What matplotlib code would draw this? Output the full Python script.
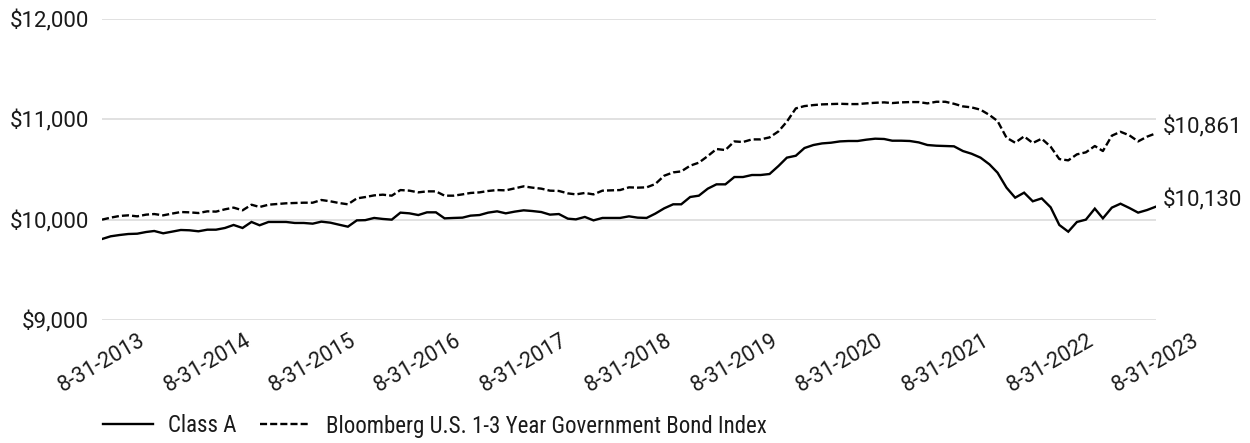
#!/usr/bin/env python3
"""Growth of $10,000: Class A vs Bloomberg U.S. 1-3 Year Government Bond Index."""
import pandas as pd
import matplotlib
matplotlib.use("Agg")
import matplotlib.pyplot as plt
from matplotlib import font_manager
from matplotlib.lines import Line2D
from matplotlib.ticker import FuncFormatter

# monthly values, 8-31-2013 .. 8-31-2023
class_a = [
    9807, 9834, 9847, 9857, 9860, 9877, 9887, 9864, 9880, 9897,
    9894, 9884, 9900, 9900, 9917, 9947, 9917, 9977, 9944, 9977,
    9977, 9977, 9967, 9967, 9960, 9980, 9970, 9950, 9930, 9993,
    9995, 10017, 10007, 10000, 10070, 10063, 10046, 10073, 10073, 10013,
    10017, 10020, 10040, 10046, 10070, 10083, 10063, 10080, 10093, 10086,
    10076, 10050, 10056, 10010, 10003, 10027, 9993, 10017, 10017, 10017,
    10033, 10020, 10017, 10060, 10113, 10153, 10153, 10226, 10239, 10309,
    10352, 10352, 10425, 10425, 10445, 10445, 10455, 10535, 10618, 10637,
    10714, 10744, 10760, 10767, 10780, 10784, 10784, 10797, 10807, 10804,
    10787, 10787, 10784, 10770, 10744, 10737, 10734, 10731, 10684, 10657,
    10618, 10551, 10468, 10319, 10219, 10269, 10183, 10212, 10123, 9947,
    9880, 9977, 10000, 10110, 10013, 10120, 10159, 10116, 10070, 10096,
    10130,
]
bond_index = [
    10000, 10020, 10037, 10043, 10033, 10050, 10056, 10043, 10060, 10076,
    10073, 10066, 10083, 10080, 10103, 10120, 10093, 10149, 10126, 10149,
    10156, 10163, 10166, 10169, 10169, 10196, 10183, 10166, 10153, 10212,
    10225, 10242, 10249, 10239, 10295, 10289, 10272, 10282, 10282, 10239,
    10239, 10252, 10266, 10272, 10286, 10295, 10292, 10312, 10332, 10319,
    10309, 10289, 10286, 10262, 10252, 10266, 10252, 10289, 10292, 10295,
    10322, 10319, 10322, 10355, 10438, 10471, 10481, 10538, 10568, 10634,
    10704, 10694, 10780, 10774, 10800, 10800, 10820, 10880, 10977, 11109,
    11132, 11142, 11149, 11152, 11155, 11152, 11152, 11159, 11165, 11169,
    11162, 11169, 11172, 11172, 11159, 11175, 11175, 11155, 11129, 11119,
    11096, 11043, 10983, 10817, 10767, 10830, 10764, 10807, 10727, 10604,
    10591, 10651, 10671, 10734, 10684, 10837, 10876, 10840, 10780, 10827,
    10861,
]
series_names = ["Class A", "Bloomberg U.S. 1-3 Year Government Bond Index"]
tick_years = list(range(2013, 2024))
y_ticks = [9000, 10000, 11000, 12000]

TEXT = "#1a1a1a"
GRID = "#d9d9d9"


def pick_family(prefer):
    names = {f.name for f in font_manager.fontManager.ttflist}
    for p in prefer:
        if p in names:
            return p
    return "DejaVu Sans"


def main():
    base = pick_family(["Roboto", "Inter", "Liberation Sans"])
    cond = pick_family(["Roboto Condensed", "Liberation Sans Narrow"])
    plt.rcParams["font.family"] = [base, "DejaVu Sans"]

    dates = pd.date_range("2013-08-31", periods=len(class_a), freq="ME")
    ticks = [pd.Timestamp(f"{y}-08-31") for y in tick_years]

    fig = plt.figure(figsize=(12.5, 4.43), dpi=100)
    ax = fig.add_axes([0.0816, 0.2777, 0.8432, 0.6794])

    dash = (0, (3.0, 1.3))
    ax.plot(dates, class_a, color="black", lw=1.7, solid_joinstyle="miter")
    ax.plot(dates, bond_index, color="black", lw=1.7, linestyle=dash)

    ax.set_ylim(9000, 12000)
    ax.set_xlim(dates[0], dates[-1])
    ax.set_yticks(y_ticks)
    ax.yaxis.set_major_formatter(FuncFormatter(lambda v, _: f"${v:,.0f}"))
    ax.set_xticks(ticks)
    ax.set_xticklabels([f"8-31-{y}" for y in tick_years], rotation=30,
                       ha="center", fontsize=15.5, color=TEXT)
    ax.tick_params(axis="y", length=0, pad=9.5, labelsize=16, labelcolor=TEXT)
    ax.tick_params(axis="x", length=0, pad=7)

    ax.grid(axis="y", color=GRID, lw=1.1)
    ax.set_axisbelow(True)
    for s in ax.spines.values():
        s.set_visible(False)

    # end labels
    for vals in (bond_index, class_a):
        ax.annotate(f"${vals[-1]:,}", xy=(dates[-1], vals[-1]), xytext=(5, 0),
                    textcoords="offset points", ha="left", va="baseline",
                    fontsize=16, color=TEXT, annotation_clip=False)

    # legend under the axis
    if cond in ("Roboto Condensed", "Liberation Sans Narrow"):
        lfam, lsize = cond, 16.5
    else:
        lfam, lsize = base, 15.5
    handles = [Line2D([], [], color="black", lw=1.7),
               Line2D([], [], color="black", lw=1.7, linestyle=dash)]
    fig.legend(handles, series_names, loc="center left",
               bbox_to_anchor=(103 / 1250, 1 - 426 / 443), ncol=2, frameon=False,
               borderpad=0, borderaxespad=0,
               handlelength=36 / lsize, handletextpad=11 / lsize,
               columnspacing=17 / lsize,
               prop={"family": [lfam, "DejaVu Sans"], "size": lsize},
               labelcolor=TEXT)

    fig.savefig("out.png", dpi=100)


if __name__ == "__main__":
    main()
